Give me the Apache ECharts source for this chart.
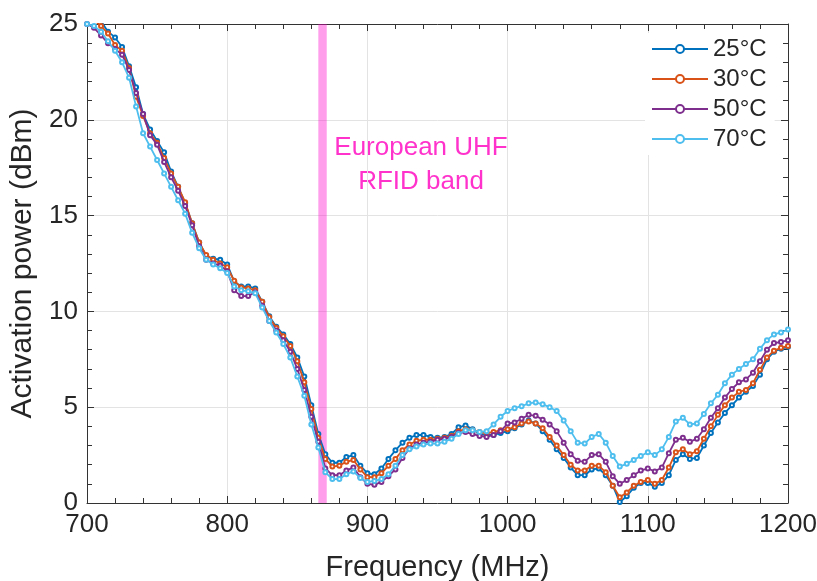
<!doctype html>
<html>
<head>
    <meta charset="utf-8">
    <title>activation-power</title>
    <script src="https://cdn.jsdelivr.net/npm/echarts@6/dist/echarts.min.js"></script>
    <style>
        html,body{margin:0;padding:0;background:#fff;}
        #ID-Chart{width:817px;height:581px;}
    </style>
</head>
<body>
    <div id="ID-Chart"></div>
    <script>
        // sampling grid: 700 .. 1200 MHz, every 5 MHz
        var freqStart = 700, freqStep = 5;
        var seriesNames = ['25°C', '30°C', '50°C', '70°C'];
        var seriesColors = ['#0072BD', '#D95319', '#7E2F8E', '#4DBEEE'];
        var xTicks = [700, 800, 900, 1000, 1100, 1200];
        var yTicks = [0, 5, 10, 15, 20, 25];
        var bandRange = [865, 871];//European UHF RFID band
        var bandLabel = ['European UHF', 'RFID band'];

        var p25 = [
            25.6, 25.4, 25.15, 24.6, 24.3, 23.8, 22.8, 21.7, 20.3, 19.5,
            18.9, 18.3, 17.3, 16.5, 15.65, 14.6, 13.6, 12.9, 12.75, 12.7,
            12.45, 11.55, 11.3, 11.3, 11.2, 10.5, 9.75, 9.2, 8.8, 8.3,
            7.6, 6.6, 5.1, 3.6, 2.55, 2.1, 2.1, 2.4, 2.5, 1.95,
            1.55, 1.5, 1.8, 2.3, 2.75, 3.15, 3.4, 3.55, 3.55, 3.45,
            3.4, 3.45, 3.6, 3.95, 4.05, 3.85, 3.6, 3.55, 3.55, 3.65,
            3.75, 3.9, 4.1, 4.3, 4.15, 3.75, 3.3, 2.8, 2.35, 1.85,
            1.45, 1.45, 1.75, 1.8, 1.45, 0.9, 0.05, 0.35, 0.8, 1.05,
            1.05, 0.85, 1.05, 1.45, 2.25, 2.55, 2.3, 2.35, 3.0, 3.65,
            4.2, 4.7, 5.1, 5.5, 5.8, 6.1, 6.7, 7.5, 7.9, 8.05,
            8.15
        ];
        var p30 = [
            25.4, 25.2, 24.9, 24.5, 23.9, 23.6, 22.7, 21.2, 20.2, 19.3,
            18.8, 18.0, 17.2, 16.5, 15.7, 14.6, 13.6, 12.95, 12.7, 12.5,
            12.3, 11.6, 11.25, 11.2, 11.1, 10.5, 9.7, 9.15, 8.7, 8.2,
            7.4, 6.3, 4.9, 3.4, 2.3, 1.9, 1.95, 2.15, 2.25, 1.75,
            1.35, 1.35, 1.55, 1.95, 2.3, 2.75, 3.05, 3.25, 3.3, 3.3,
            3.35, 3.4, 3.5, 3.75, 3.85, 3.8, 3.7, 3.65, 3.7, 3.8,
            3.85, 3.95, 4.15, 4.25, 4.15, 3.9, 3.45, 3.0, 2.5, 2.0,
            1.7, 1.7, 1.95, 1.95, 1.6, 0.9, 0.3, 0.55, 0.9, 1.1,
            1.2, 1.0, 1.2, 1.85, 2.65, 2.8, 2.55, 2.7, 3.35, 4.0,
            4.6, 5.1, 5.5, 5.8, 5.9, 6.25, 6.95, 7.6, 7.95, 8.1,
            8.2
        ];
        var p50 = [
            25.0, 24.8, 24.4, 24.0, 23.7, 23.4, 22.6, 21.4, 20.3, 19.2,
            18.7, 17.8, 17.0, 16.3, 15.5, 14.5, 13.4, 12.7, 12.5, 12.4,
            12.1, 11.1, 10.8, 10.8, 11.0, 10.3, 9.5, 9.0, 8.5, 7.9,
            7.0, 5.9, 4.5, 3.2, 1.8, 1.45, 1.45, 1.7, 1.85, 1.35,
            1.0, 0.95, 1.1, 1.4, 1.75, 2.35, 2.85, 3.05, 3.15, 3.2,
            3.3, 3.35, 3.45, 3.65, 3.7, 3.6, 3.5, 3.45, 3.55, 3.75,
            4.15, 4.2, 4.4, 4.6, 4.55, 4.35, 4.1, 3.75, 3.15, 2.55,
            2.2, 2.15, 2.5, 2.55, 2.15, 1.4, 1.0, 1.2, 1.45, 1.7,
            1.8, 1.65, 1.85, 2.6, 3.3, 3.4, 3.2, 3.35, 3.85, 4.45,
            4.95, 5.5, 5.95, 6.3, 6.45, 6.8, 7.4, 8.0, 8.35, 8.4,
            8.5
        ];
        var p70 = [
            25.0, 24.9, 24.6, 24.1, 23.6, 23.0, 22.2, 20.7, 19.3, 18.6,
            17.9, 17.2, 16.5, 15.8, 15.1, 14.1, 13.3, 12.7, 12.45, 12.25,
            12.0, 11.3, 11.1, 11.05, 10.95, 10.2, 9.5, 8.9, 8.3, 7.6,
            6.6, 5.6, 4.1, 2.9, 1.6, 1.25, 1.25, 1.5, 1.65, 1.3,
            1.1, 1.15, 1.25, 1.5, 1.95, 2.5, 2.8, 2.95, 3.05, 3.1,
            3.1, 3.2, 3.35, 3.6, 3.8, 3.8, 3.7, 3.75, 4.1, 4.5,
            4.8, 4.95, 5.05, 5.2, 5.25, 5.15, 5.0, 4.8, 4.3, 3.75,
            3.15, 3.1, 3.45, 3.6, 3.15, 2.45, 1.9, 2.05, 2.25, 2.45,
            2.65, 2.5, 2.8, 3.45, 4.25, 4.45, 4.1, 4.15, 4.65, 5.2,
            5.65, 6.25, 6.7, 7.0, 7.25, 7.5, 8.05, 8.5, 8.8, 8.9,
            9.05
        ];
        var seriesValues = [p25, p30, p50, p70];

        var FONT = '"Liberation Sans", Arial, sans-serif';
        var TEXT_COLOR = '#262626';
        var AXIS_COLOR = '#333333';

        function toPairs(values){
            var out = [];
            for (var i = 0; i < values.length; i++) {
                out.push([freqStart + i * freqStep, values[i]]);
            }
            return out;
        }

        function boxAxis(pos, min, max, interval, showLabel){
            return {
                type: 'value',
                position: pos,
                min: min,
                max: max,
                interval: interval,
                axisLine: {show: true, onZero: false, lineStyle: {color: AXIS_COLOR, width: 1}},
                axisTick: {show: true, inside: true, length: 7, lineStyle: {color: AXIS_COLOR, width: 1}},
                minorTick: {show: true, splitNumber: 5, length: 5, lineStyle: {color: AXIS_COLOR, width: 1}},
                splitLine: {show: showLabel, lineStyle: {color: '#e3e3e3', width: 1}},
                axisLabel: {
                    show: showLabel, fontFamily: FONT, fontSize: 26, color: TEXT_COLOR, margin: 9,
                    formatter: function(v){ return String(v); }
                }
            };
        }

        var chart = echarts.init(document.getElementById('ID-Chart'), null, {renderer: 'canvas'});

        var xMain = boxAxis('bottom', xTicks[0], xTicks[xTicks.length - 1], 100, true);
        xMain.name = 'Frequency (MHz)';
        xMain.nameLocation = 'middle';
        xMain.nameGap = 50;
        xMain.nameTextStyle = {fontFamily: FONT, fontSize: 29, color: TEXT_COLOR};
        var xTop = boxAxis('top', xTicks[0], xTicks[xTicks.length - 1], 100, false);

        var yMain = boxAxis('left', yTicks[0], yTicks[yTicks.length - 1], 5, true);
        yMain.name = 'Activation power (dBm)';
        yMain.nameLocation = 'middle';
        yMain.nameGap = 42;
        yMain.nameTextStyle = {fontFamily: FONT, fontSize: 30, color: TEXT_COLOR};
        var yRight = boxAxis('right', yTicks[0], yTicks[yTicks.length - 1], 5, false);

        var series = [];
        for (var s = 0; s < seriesNames.length; s++) {
            series.push({
                name: seriesNames[s],
                type: 'line',
                data: toPairs(seriesValues[s]),
                symbol: 'emptyCircle',
                symbolSize: 4,
                showSymbol: true,
                clip: true,
                lineStyle: {width: 1.8, color: seriesColors[s]},
                itemStyle: {color: seriesColors[s], borderWidth: 1.4},
                z: 2 + s
            });
        }
        // pink band drawn over the curves
        series.push({
            name: 'band',
            type: 'line',
            data: [],
            z: 20,
            markArea: {
                silent: true,
                itemStyle: {color: 'rgba(255,0,200,0.38)'},
                data: [[{xAxis: bandRange[0]}, {xAxis: bandRange[1]}]]
            }
        });

        chart.setOption({
            animation: false,
            backgroundColor: '#fff',
            grid: {left: 87, right: 29, top: 24, bottom: 78, outerBoundsMode: 'none', containLabel: false},
            xAxis: [xMain, xTop],
            yAxis: [yMain, yRight],
            legend: {
                data: seriesNames,
                orient: 'vertical',
                left: 645,
                top: 33,
                padding: [4, 8, 4, 6],
                itemGap: 6,
                itemWidth: 56,
                itemHeight: 10,
                backgroundColor: '#fff',
                textStyle: {fontFamily: FONT, fontSize: 24, color: TEXT_COLOR}
            },
            graphic: [{
                type: 'text',
                style: {
                    text: bandLabel.join('\n'),
                    fontFamily: FONT,
                    fontSize: 26,
                    lineHeight: 34,
                    fill: '#ff33cc',
                    align: 'center'
                },
                position: [421, 131]
            }],
            series: series
        });
    </script>
</body>
</html>
